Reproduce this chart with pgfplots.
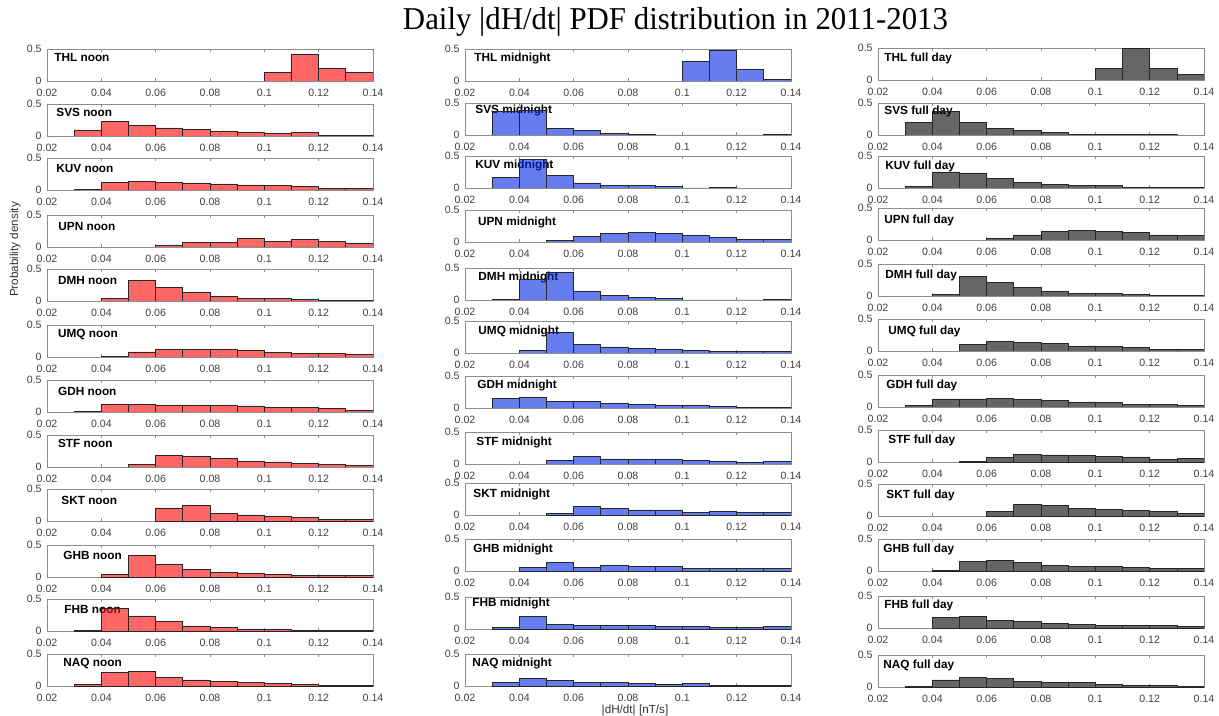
\documentclass[border=0pt]{standalone}
\usepackage{fontspec}
\setmainfont{Liberation Sans}
\newfontfamily\titlefont[FakeStretch=0.97]{Liberation Serif}
\usepackage{pgfplots}
\pgfplotsset{compat=1.18}

% 1 px of the reference = 0.5pt
\pgfplotsset{
  hax/.style={
    anchor=north west, scale only axis,
    width=163pt, height=16pt,
    xmin=0.02, xmax=0.14, ymin=0, ymax=0.5,
    xtick={0.02,0.04,0.06,0.08,0.1,0.12,0.14},
    xticklabels={0.02,0.04,0.06,0.08,0.1,0.12,0.14},
    ytick={0,0.5}, yticklabels={0,0.5},
    tick align=inside, major tick length=1.6pt,
    axis line style={black!45, line width=0.4pt},
    tick style={black!45, line width=0.4pt},
    ticklabel style={font=\fontsize{5.3}{6}\selectfont, text=black!75},
    xticklabel style={inner sep=0pt, yshift=-3.7pt},
    yticklabel style={inner sep=0pt, xshift=-2.5pt},
  },
}
\tikzset{lbl/.style={anchor=west, inner sep=0pt, font=\bfseries\fontsize{5.9}{7}\selectfont}}

% #1 left px, #2 top px, #3 label, #4 label dx px, #5 label dy px, #6 colour, #7 bins
\newcommand{\hist}[7]{%
  \begin{axis}[hax, at={(#1*0.5pt,-#2*0.5pt)}]
    \node[lbl] at ([xshift=#4*0.5pt, yshift=-#5*0.5pt]rel axis cs:0,1) {#3};
    \addplot[ybar interval, fill=#6, fill opacity=0.6, draw=black!85, line width=0.35pt]
      coordinates {#7};
  \end{axis}}

\colorlet{cnoon}{red}
\definecolor{cnight}{rgb}{0,0.15,0.9}
\colorlet{cday}{black}

\begin{document}
\begin{tikzpicture}
\path[use as bounding box] (0,0) rectangle (609.5pt,-358pt);

\node[font=\titlefont\fontsize{15.9}{18}\selectfont, anchor=base] at (337.75pt,-15pt)
  {Daily |dH/dt| PDF distribution in 2011-2013};
\node[rotate=90, font=\fontsize{5.85}{7}\selectfont, text=black!80] at (7.5pt,-124.75pt)
  {Probability density};
\node[font=\fontsize{5.85}{7}\selectfont, text=black!80] at (317.5pt,-355pt)
  {|dH/dt| [nT/s]};

% ---- noon
\hist{47}{49}{THL noon}{7}{8.7}{cnoon}{(0.10,0.13)(0.11,0.42)(0.12,0.19)(0.13,0.13)(0.14,0)}
\hist{47}{104}{SVS noon}{9}{8.7}{cnoon}{(0.03,0.094)(0.04,0.23)(0.05,0.17)(0.06,0.125)(0.07,0.10)(0.08,0.07)(0.09,0.057)(0.10,0.036)(0.11,0.057)(0.12,0.012)(0.13,0.012)(0.14,0)}
\hist{47}{158}{KUV noon}{9}{10.3}{cnoon}{(0.03,0.005)(0.04,0.115)(0.05,0.13)(0.06,0.115)(0.07,0.11)(0.08,0.095)(0.09,0.08)(0.10,0.07)(0.11,0.05)(0.12,0.03)(0.13,0.03)(0.14,0)}
\hist{47}{215}{UPN noon}{11}{11.7}{cnoon}{(0.06,0.02)(0.07,0.065)(0.08,0.07)(0.09,0.13)(0.10,0.09)(0.11,0.115)(0.12,0.085)(0.13,0.06)(0.14,0)}
\hist{47}{269}{DMH noon}{10.7}{11.7}{cnoon}{(0.04,0.04)(0.05,0.32)(0.06,0.21)(0.07,0.14)(0.08,0.075)(0.09,0.04)(0.10,0.04)(0.11,0.02)(0.12,0.005)(0.13,0.005)(0.14,0)}
\hist{47}{325}{UMQ noon}{10.7}{10}{cnoon}{(0.04,0.005)(0.05,0.08)(0.06,0.12)(0.07,0.12)(0.08,0.125)(0.09,0.10)(0.10,0.07)(0.11,0.055)(0.12,0.055)(0.13,0.04)(0.14,0)}
\hist{47}{380}{GDH noon}{10.7}{11.7}{cnoon}{(0.03,0.01)(0.04,0.12)(0.05,0.115)(0.06,0.11)(0.07,0.11)(0.08,0.105)(0.09,0.095)(0.10,0.075)(0.11,0.065)(0.12,0.05)(0.13,0.02)(0.14,0)}
\hist{47}{435}{STF noon}{10.7}{8.3}{cnoon}{(0.05,0.04)(0.06,0.18)(0.07,0.165)(0.08,0.13)(0.09,0.09)(0.10,0.08)(0.11,0.05)(0.12,0.04)(0.13,0.02)(0.14,0)}
\hist{47}{489}{SKT noon}{14}{11}{cnoon}{(0.06,0.205)(0.07,0.25)(0.08,0.125)(0.09,0.095)(0.10,0.075)(0.11,0.055)(0.12,0.03)(0.13,0.025)(0.14,0)}
\hist{47}{545}{GHB noon}{16}{10.7}{cnoon}{(0.04,0.035)(0.05,0.335)(0.06,0.195)(0.07,0.12)(0.08,0.075)(0.09,0.06)(0.10,0.04)(0.11,0.03)(0.12,0.02)(0.13,0.02)(0.14,0)}
\hist{47}{599}{FHB noon}{17}{10.3}{cnoon}{(0.03,0.005)(0.04,0.355)(0.05,0.235)(0.06,0.155)(0.07,0.08)(0.08,0.06)(0.09,0.03)(0.10,0.02)(0.11,0.01)(0.12,0.01)(0.13,0.01)(0.14,0)}
\hist{47}{654}{NAQ noon}{16}{10}{cnoon}{(0.03,0.02)(0.04,0.215)(0.05,0.23)(0.06,0.14)(0.07,0.095)(0.08,0.065)(0.09,0.05)(0.10,0.04)(0.11,0.02)(0.12,0.015)(0.13,0.01)(0.14,0)}

% ---- midnight
\hist{465}{49}{THL midnight}{9}{9.3}{cnight}{(0.10,0.30)(0.11,0.485)(0.12,0.175)(0.13,0.02)(0.14,0)}
\hist{465}{103}{SVS midnight}{10}{7.7}{cnight}{(0.03,0.37)(0.04,0.38)(0.05,0.105)(0.06,0.065)(0.07,0.02)(0.08,0.015)(0.09,0)(0.10,0)(0.11,0)(0.12,0)(0.13,0.005)(0.14,0)}
\hist{465}{156}{KUV midnight}{10}{9.7}{cnight}{(0.03,0.165)(0.04,0.44)(0.05,0.19)(0.06,0.08)(0.07,0.04)(0.08,0.035)(0.09,0.025)(0.10,0)(0.11,0.005)(0.12,0)}
\hist{465}{210}{UPN midnight}{12.7}{12.3}{cnight}{(0.05,0.03)(0.06,0.085)(0.07,0.13)(0.08,0.15)(0.09,0.135)(0.10,0.10)(0.11,0.075)(0.12,0.04)(0.13,0.04)(0.14,0)}
\hist{465}{268}{DMH midnight}{13}{9.7}{cnight}{(0.03,0.005)(0.04,0.32)(0.05,0.43)(0.06,0.14)(0.07,0.07)(0.08,0.045)(0.09,0.02)(0.10,0)(0.11,0)(0.12,0)(0.13,0.005)(0.14,0)}
\hist{465}{321}{UMQ midnight}{13}{10}{cnight}{(0.04,0.04)(0.05,0.32)(0.06,0.13)(0.07,0.095)(0.08,0.07)(0.09,0.05)(0.10,0.045)(0.11,0.02)(0.12,0.03)(0.13,0.02)(0.14,0)}
\hist{465}{376}{GDH midnight}{12}{9}{cnight}{(0.03,0.155)(0.04,0.17)(0.05,0.105)(0.06,0.105)(0.07,0.07)(0.08,0.06)(0.09,0.04)(0.10,0.04)(0.11,0.03)(0.12,0.015)(0.13,0.015)(0.14,0)}
\hist{465}{432}{STF midnight}{11}{10.3}{cnight}{(0.05,0.05)(0.06,0.125)(0.07,0.08)(0.08,0.065)(0.09,0.065)(0.10,0.05)(0.11,0.04)(0.12,0.03)(0.13,0.04)(0.14,0)}
\hist{465}{483}{SKT midnight}{8}{11}{cnight}{(0.05,0.02)(0.06,0.13)(0.07,0.10)(0.08,0.08)(0.09,0.08)(0.10,0.045)(0.11,0.06)(0.12,0.035)(0.13,0.035)(0.14,0)}
\hist{465}{539}{GHB midnight}{8}{10.3}{cnight}{(0.04,0.05)(0.05,0.135)(0.06,0.05)(0.07,0.085)(0.08,0.065)(0.09,0.065)(0.10,0.04)(0.11,0.04)(0.12,0.035)(0.13,0.035)(0.14,0)}
\hist{465}{597}{FHB midnight}{7}{6.3}{cnight}{(0.03,0.02)(0.04,0.195)(0.05,0.07)(0.06,0.06)(0.07,0.06)(0.08,0.055)(0.09,0.04)(0.10,0.045)(0.11,0.03)(0.12,0.03)(0.13,0.045)(0.14,0)}
\hist{465}{654}{NAQ midnight}{7}{9.3}{cnight}{(0.03,0.055)(0.04,0.12)(0.05,0.085)(0.06,0.06)(0.07,0.05)(0.08,0.045)(0.09,0.03)(0.10,0.04)(0.11,0.015)(0.12,0.015)(0.13,0.015)(0.14,0)}

% ---- full day
\hist{878}{48}{THL full day}{6}{10.3}{cday}{(0.10,0.185)(0.11,0.495)(0.12,0.185)(0.13,0.09)(0.14,0)}
\hist{878}{103}{SVS full day}{6}{8.7}{cday}{(0.03,0.19)(0.04,0.365)(0.05,0.19)(0.06,0.10)(0.07,0.065)(0.08,0.04)(0.09,0.01)(0.10,0.01)(0.11,0.01)(0.12,0.005)(0.13,0)}
\hist{878}{156}{KUV full day}{7}{10}{cday}{(0.03,0.02)(0.04,0.25)(0.05,0.235)(0.06,0.15)(0.07,0.09)(0.08,0.06)(0.09,0.035)(0.10,0.035)(0.11,0.015)(0.12,0.005)(0.13,0.01)(0.14,0)}
\hist{878}{208}{UPN full day}{6}{12}{cday}{(0.06,0.02)(0.07,0.08)(0.08,0.14)(0.09,0.155)(0.10,0.13)(0.11,0.12)(0.12,0.08)(0.13,0.065)(0.14,0)}
\hist{878}{264}{DMH full day}{7}{11}{cday}{(0.04,0.025)(0.05,0.305)(0.06,0.215)(0.07,0.14)(0.08,0.07)(0.09,0.035)(0.10,0.035)(0.11,0.02)(0.12,0.01)(0.13,0.005)(0.14,0)}
\hist{878}{319}{UMQ full day}{10}{12}{cday}{(0.05,0.10)(0.06,0.15)(0.07,0.14)(0.08,0.115)(0.09,0.08)(0.10,0.065)(0.11,0.05)(0.12,0.03)(0.13,0.03)(0.14,0)}
\hist{878}{375}{GDH full day}{8}{10}{cday}{(0.03,0.025)(0.04,0.125)(0.05,0.125)(0.06,0.135)(0.07,0.115)(0.08,0.105)(0.09,0.08)(0.10,0.065)(0.11,0.04)(0.12,0.045)(0.13,0.02)(0.14,0)}
\hist{878}{430}{STF full day}{10}{10.7}{cday}{(0.05,0.015)(0.06,0.075)(0.07,0.12)(0.08,0.11)(0.09,0.105)(0.10,0.085)(0.11,0.08)(0.12,0.045)(0.13,0.055)(0.14,0)}
\hist{878}{484}{SKT full day}{8}{11}{cday}{(0.06,0.075)(0.07,0.175)(0.08,0.16)(0.09,0.12)(0.10,0.105)(0.11,0.085)(0.12,0.07)(0.13,0.04)(0.14,0)}
\hist{878}{539}{GHB full day}{5}{10.3}{cday}{(0.04,0.015)(0.05,0.15)(0.06,0.16)(0.07,0.14)(0.08,0.09)(0.09,0.075)(0.10,0.07)(0.11,0.06)(0.12,0.04)(0.13,0.035)(0.14,0)}
\hist{878}{596}{FHB full day}{6}{9}{cday}{(0.04,0.165)(0.05,0.18)(0.06,0.125)(0.07,0.10)(0.08,0.065)(0.09,0.05)(0.10,0.045)(0.11,0.035)(0.12,0.035)(0.13,0.025)(0.14,0)}
\hist{878}{655}{NAQ full day}{5}{10}{cday}{(0.03,0.01)(0.04,0.11)(0.05,0.15)(0.06,0.13)(0.07,0.09)(0.08,0.065)(0.09,0.065)(0.10,0.045)(0.11,0.025)(0.12,0.02)(0.13,0.015)(0.14,0)}

\end{tikzpicture}
\end{document}
